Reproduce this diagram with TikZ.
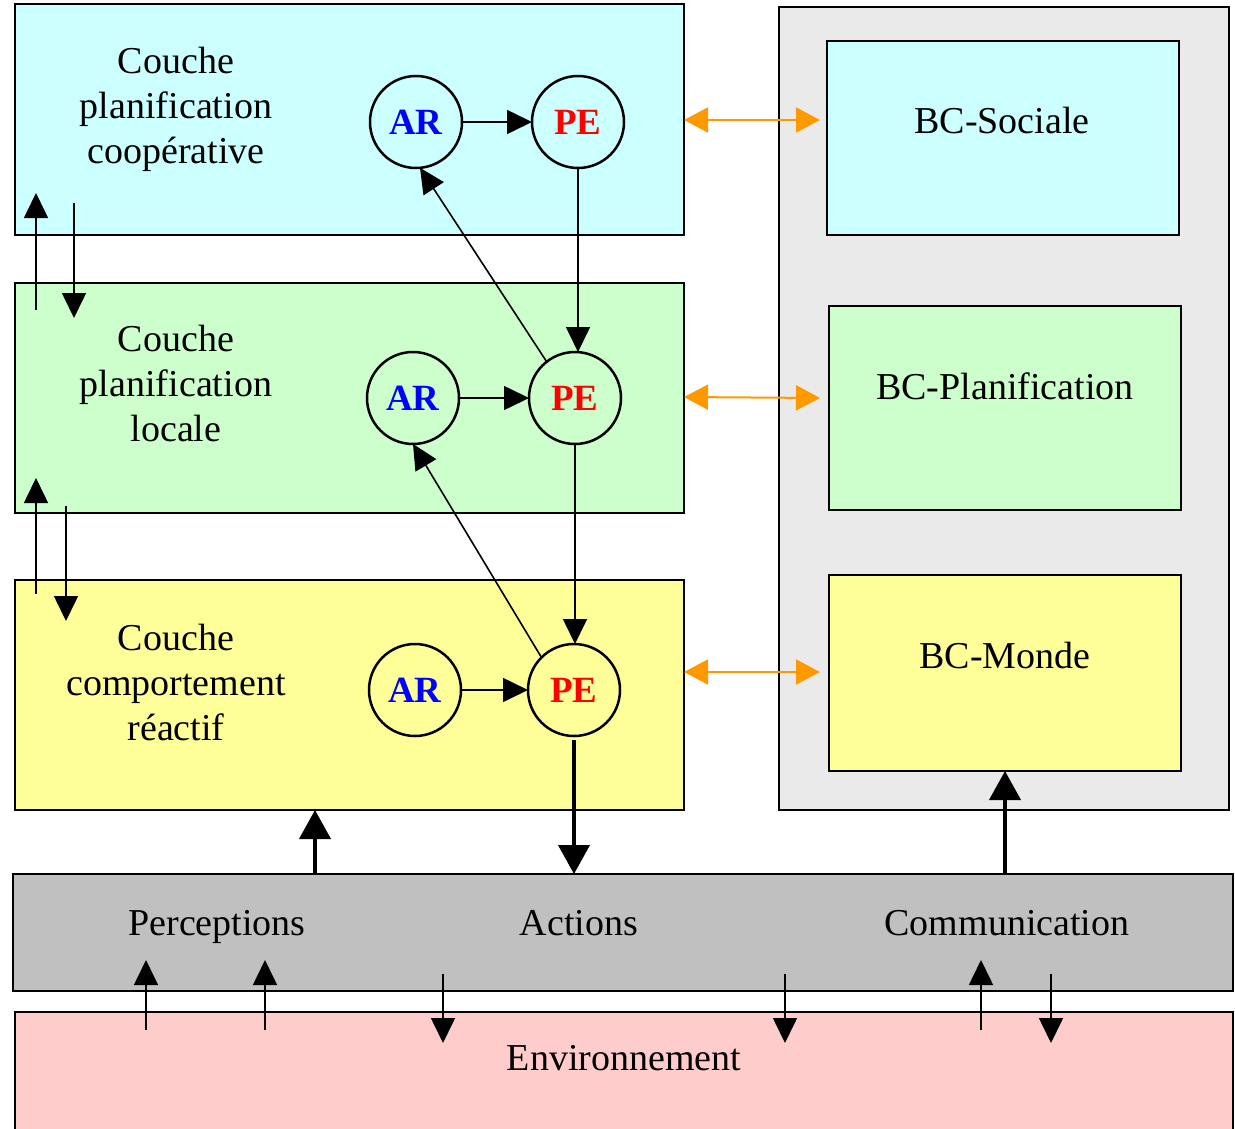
\documentclass[tikz,border=0pt]{standalone}
\usepackage{fontspec}
\setmainfont{Liberation Serif}
\usetikzlibrary{arrows.meta,calc}
\definecolor{cyanbg}{HTML}{CCFFFF}
\definecolor{greenbg}{HTML}{CCFFCC}
\definecolor{yellowbg}{HTML}{FFFF99}
\definecolor{panelbg}{HTML}{EAEAEA}
\definecolor{barbg}{HTML}{C0C0C0}
\definecolor{envbg}{HTML}{FFCCCC}
\definecolor{arrorange}{HTML}{FF9900}
\begin{document}
\begin{tikzpicture}[x=1pt,y=-1pt,
  box/.style={draw=black, line width=2pt, inner sep=0pt, outer sep=0pt, anchor=north west},
  txt/.style={font=\fontsize{38}{45}\selectfont, align=center, inner sep=0pt},
  lbl/.style={font=\fontsize{38}{45}\selectfont, inner sep=0pt, anchor=base},
  circ/.style={circle, draw=black, line width=2.5pt, minimum size=92pt, inner sep=0pt, outer sep=0pt,
    font=\fontsize{37}{40}\selectfont\bfseries},
  thinarr/.style={-{Triangle[length=25pt,width=24pt]}, line width=1.6pt},
  thickarr/.style={-{Triangle[length=29pt,width=31pt]}, line width=4pt},
  twoway/.style={{Triangle[length=24pt,width=25pt]}-{Triangle[length=24pt,width=25pt]}, line width=2pt, draw=arrorange, fill=arrorange},
]
\useasboundingbox (0,0) rectangle (1235,1128);

% knowledge base panel
\node[box, fill=panelbg, minimum width=450pt, minimum height=803pt] (panel) at (779,7) {};
\node[box, fill=cyanbg, minimum width=352pt, minimum height=194pt] (bcs) at (827,41) {};
\node[box, fill=greenbg, minimum width=352pt, minimum height=204pt] (bcp) at (829,306) {};
\node[box, fill=yellowbg, minimum width=352pt, minimum height=196pt] (bcm) at (829,575) {};
\node[lbl] at (1002,133) {BC-Sociale};
\node[lbl] at (1005,399) {BC-Planification};
\node[lbl] at (1005,668) {BC-Monde};

% layers
\node[box, fill=cyanbg, minimum width=669pt, minimum height=231pt] (coop) at (15,4) {};
\node[box, fill=greenbg, minimum width=669pt, minimum height=230pt] (loc) at (15,283) {};
\node[box, fill=yellowbg, minimum width=669pt, minimum height=230pt] (react) at (15,580) {};
\node[txt] at (176,109) {Couche\\planification\\coopérative};
\node[txt] at (176,383) {Couche\\planification\\locale};
\node[txt] at (176,682) {Couche\\comportement\\réactif};

% interface bar and environment
\node[box, fill=barbg, minimum width=1220pt, minimum height=117pt] (bar) at (13,874) {};
\node[box, fill=envbg, minimum width=1218pt, minimum height=140pt] (env) at (15,1012) {};
\node[lbl] at (217,935) {Perceptions};
\node[lbl] at (579,935) {Actions};
\node[lbl] at (1007,935) {Communication};
\node[lbl] at (624,1070) {Environnement};

% AR / PE modules
\node[circ, text=blue] (arT) at (416,122) {AR};
\node[circ, text=red] (peT) at (578,122) {PE};
\node[circ, text=blue] (arM) at (413,398) {AR};
\node[circ, text=red] (peM) at (575,398) {PE};
\node[circ, text=blue] (arB) at (415,690) {AR};
\node[circ, text=red] (peB) at (574,690) {PE};

\draw[thinarr] (arT) -- (peT);
\draw[thinarr] (arM) -- (peM);
\draw[thinarr] (arB) -- (peB);
\draw[thinarr] (peT.south) -- (peT.south |- peM.north);
\draw[thinarr] (peM.south) -- (peM.south |- peB.north);
\draw[thinarr] (peM.128) -- (arT.275);
\draw[thinarr] (peB.135) -- (arM.south);

% links with the knowledge bases
\coordinate (oT) at (684,120);  \coordinate (kT) at (820,120);
\coordinate (oM) at (684,397);  \coordinate (kM) at (820,398);
\coordinate (oB) at (684,672);  \coordinate (kB) at (820,672);
\draw[twoway] (oT) -- (kT);
\draw[twoway] (oM) -- (kM);
\draw[twoway] (oB) -- (kB);

% thick arrows with the interface bar
\coordinate (xp) at (315,0);
\coordinate (xc) at (1005,0);
\draw[thickarr] ([yshift=-4pt]peB.south) -- (bar.north -| peB.south);
\draw[thickarr] (bar.north -| xp) -- (react.south -| xp);
\draw[thickarr] (bar.north -| xc) -- (bcm.south -| xc);

% arrows between layers
\coordinate (u1s) at (36,310); \coordinate (u1e) at (36,193);
\coordinate (d1s) at (74,203); \coordinate (d1e) at (74,318);
\coordinate (u2s) at (36,594); \coordinate (u2e) at (36,478);
\coordinate (d2s) at (66,506); \coordinate (d2e) at (66,621);
\draw[thinarr] (u1s) -- (u1e);
\draw[thinarr] (d1s) -- (d1e);
\draw[thinarr] (u2s) -- (u2e);
\draw[thinarr] (d2s) -- (d2e);

% arrows between the bar and the environment
\foreach \x/\n in {146/a,265/b,981/c}{
  \coordinate (up\n s) at (\x,1030); \coordinate (up\n e) at (\x,960);
  \draw[thinarr] (up\n s) -- (up\n e);
}
\foreach \x/\n in {443/a,785/b,1051/c}{
  \coordinate (dn\n s) at (\x,974); \coordinate (dn\n e) at (\x,1043);
  \draw[thinarr] (dn\n s) -- (dn\n e);
}
\end{tikzpicture}
\end{document}
